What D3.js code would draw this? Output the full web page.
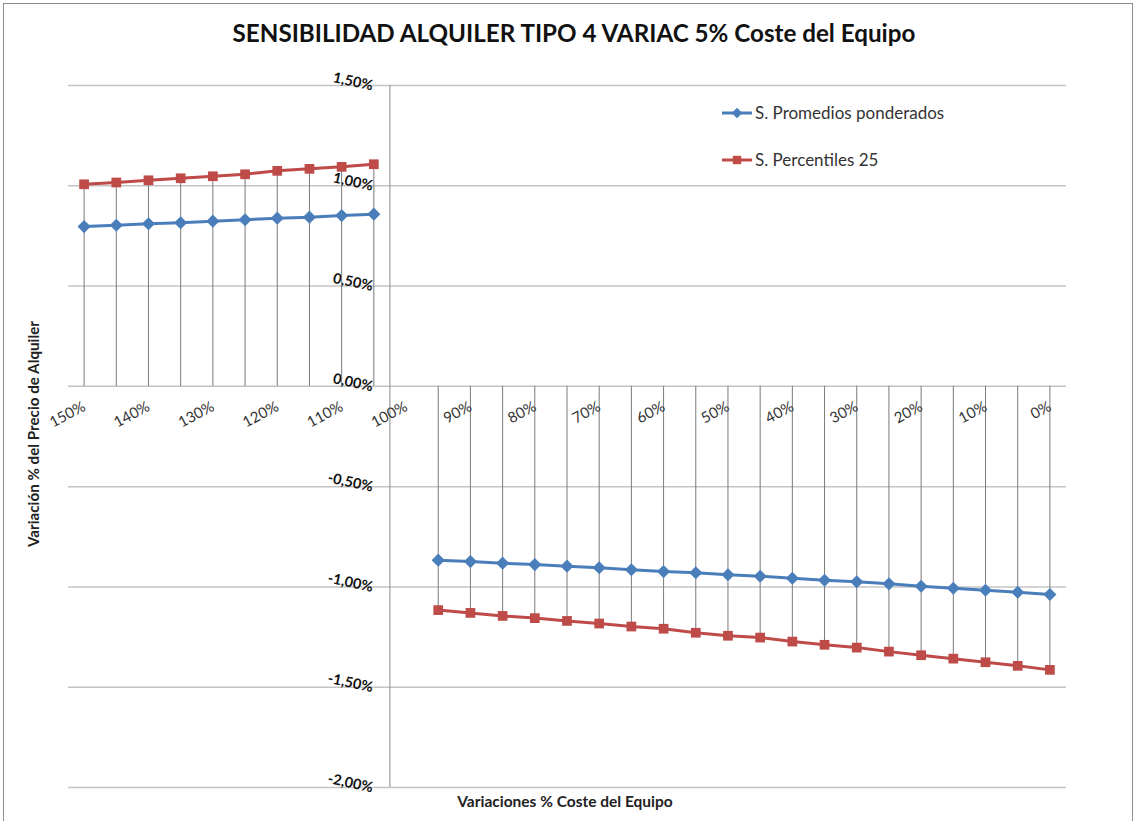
<!DOCTYPE html>
<html>
<head>
<meta charset="utf-8">
<script src="https://cdn.jsdelivr.net/npm/d3@7"></script>
<style>
  html, body { margin: 0; padding: 0; background: #fff; }
  svg { display: block; font-family: Lato, "Open Sans", sans-serif; }
</style>
</head>
<body>
<svg id="chart" width="1136" height="821"></svg>
<script>
// Categories: percentage variation of equipment cost
const categories = ["150%","145%","140%","135%","130%","125%","120%","115%","110%","105%","100%",
  "95%","90%","85%","80%","75%","70%","65%","60%","55%","50%",
  "45%","40%","35%","30%","25%","20%","15%","10%","5%","0%"];

// Labelled categories on the horizontal axis
const xTickLabels = ["150%","140%","130%","120%","110%","100%","90%","80%","70%","60%",
  "50%","40%","30%","20%","10%","0%"];

// Rental price variation (%) — weighted averages
const promedios = [0.794, 0.801, 0.808, 0.813, 0.821, 0.828, 0.836, 0.841, 0.849, 0.856, null,
  -0.869, -0.876, -0.884, -0.891, -0.899, -0.907, -0.917, -0.926, -0.932, -0.942,
  -0.949, -0.959, -0.969, -0.977, -0.987, -0.999, -1.009, -1.019, -1.029, -1.040];

// Rental price variation (%) — 25th percentiles
const percentiles = [1.005, 1.014, 1.025, 1.035, 1.045, 1.055, 1.072, 1.082, 1.092, 1.105, null,
  -1.118, -1.132, -1.147, -1.158, -1.172, -1.185, -1.200, -1.211, -1.231, -1.246,
  -1.255, -1.275, -1.291, -1.305, -1.325, -1.343, -1.360, -1.378, -1.396, -1.416];

// Value axis ticks
const yTicks = [1.5, 1.0, 0.5, 0.0, -0.5, -1.0, -1.5, -2.0];

const seriesNames = ["S. Promedios ponderados", "S. Percentiles 25"];
const colors = ["#4a7ebb", "#be4b48"];

const svg = d3.select("#chart");

// Outer chart frame
svg.append("rect")
  .attr("x", 3.5).attr("y", 3.5)
  .attr("width", 1129).attr("height", 840)
  .attr("fill", "#fff").attr("stroke", "#8c8c8c").attr("stroke-width", 1);

const plot = { left: 68, right: 1066, top: 85, bottom: 787 };

const x = d3.scalePoint().domain(categories).range([plot.left, plot.right]).padding(0.5);
const y = d3.scaleLinear().domain([-2, 1.5]).range([plot.bottom, plot.top]);

const esLocale = d3.formatLocale({ decimal: ",", thousands: ".", grouping: [3], currency: ["", " €"], minus: "-" });
const fmtPct = v => esLocale.format(".2f")(v) + "%";

// Horizontal gridlines
const grid = svg.append("g")
  .attr("transform", `translate(${plot.left},0)`)
  .call(d3.axisLeft(y).tickValues(yTicks).tickSize(-(plot.right - plot.left)).tickFormat(""));
grid.select(".domain").remove();
grid.selectAll("line").attr("stroke", "#c4c4c4").attr("stroke-width", 1.5);

// Vertical axis crossing between 105% and 100%
const axisX = x("105%") + x.step() / 2;
svg.append("line")
  .attr("x1", axisX).attr("x2", axisX)
  .attr("y1", plot.top).attr("y2", plot.bottom)
  .attr("stroke", "#8a8a8a").attr("stroke-width", 1);

// Value axis labels
const yAxis = svg.append("g")
  .attr("transform", `translate(${axisX},0)`)
  .call(d3.axisLeft(y).tickValues(yTicks).tickSize(0).tickFormat(fmtPct));
yAxis.select(".domain").remove();
yAxis.selectAll("text")
  .attr("x", null).attr("dy", null)
  .attr("text-anchor", "end")
  .attr("transform", "translate(-18,5) rotate(12)")
  .attr("font-family", "Lato, sans-serif")
  .attr("font-size", 14.5).attr("font-weight", "bold")
  .attr("fill", "#111");

// Drop lines from each point to the category axis
const y0 = y(0);
categories.forEach((c, i) => {
  const vals = [promedios[i], percentiles[i]].filter(v => v !== null);
  if (!vals.length) return;
  const ext = vals.reduce((a, b) => Math.abs(b) > Math.abs(a) ? b : a);
  svg.append("line")
    .attr("x1", x(c)).attr("x2", x(c))
    .attr("y1", y0).attr("y2", y(ext))
    .attr("stroke", "#7a7a7a").attr("stroke-width", 1);
});

// Category axis labels
const xAxis = svg.append("g")
  .attr("transform", `translate(0,${y0})`)
  .call(d3.axisBottom(x).tickValues(xTickLabels).tickSize(0));
xAxis.select(".domain").remove();
xAxis.selectAll("text")
  .attr("y", null).attr("dy", null)
  .attr("text-anchor", "end")
  .attr("transform", "translate(2,24) rotate(-28)")
  .attr("font-family", "Lato, sans-serif")
  .attr("font-size", 15)
  .attr("fill", "#333");

// Series lines and markers
const line = d3.line()
  .defined(d => d.v !== null)
  .x(d => x(d.c))
  .y(d => y(d.v));

const diamond = d3.symbol().type(d3.symbolDiamond2).size(110);
const square = d3.symbol().type(d3.symbolSquare2).size(120);

[promedios, percentiles].forEach((vals, s) => {
  const pts = categories.map((c, i) => ({ c, v: vals[i] }));
  svg.append("path")
    .datum(pts)
    .attr("d", line)
    .attr("fill", "none")
    .attr("stroke", colors[s])
    .attr("stroke-width", 3);
  svg.append("g").selectAll("path")
    .data(pts.filter(d => d.v !== null))
    .join("path")
    .attr("d", s === 0 ? diamond : square)
    .attr("transform", d => `translate(${x(d.c)},${y(d.v)})`)
    .attr("fill", colors[s]);
});

// Legend
const legend = svg.append("g");
seriesNames.forEach((name, s) => {
  const ly = 113 + s * 47;
  legend.append("line")
    .attr("x1", 722).attr("x2", 752).attr("y1", ly).attr("y2", ly)
    .attr("stroke", colors[s]).attr("stroke-width", 3);
  legend.append("path")
    .attr("d", s === 0 ? d3.symbol().type(d3.symbolDiamond2).size(70) : d3.symbol().type(d3.symbolSquare2).size(90))
    .attr("transform", `translate(737,${ly})`)
    .attr("fill", colors[s]);
  legend.append("text")
    .attr("x", 755).attr("y", ly + 6)
    .attr("font-size", 17)
    .attr("fill", "#333")
    .text(name);
});

// Title
svg.append("text")
  .attr("x", 574).attr("y", 42)
  .attr("text-anchor", "middle")
  .attr("font-size", 24.2).attr("font-weight", "bold")
  .attr("fill", "#111")
  .text("SENSIBILIDAD ALQUILER TIPO 4 VARIAC 5% Coste del Equipo");

// Axis titles
svg.append("text")
  .attr("x", 565).attr("y", 807)
  .attr("text-anchor", "middle")
  .attr("font-size", 15.5).attr("font-weight", "bold")
  .attr("fill", "#222")
  .text("Variaciones % Coste del Equipo");

svg.append("text")
  .attr("transform", "translate(39,434) rotate(-90)")
  .attr("text-anchor", "middle")
  .attr("font-size", 15.2).attr("font-weight", "bold")
  .attr("fill", "#222")
  .text("Variación % del Precio de Alquiler");
</script>
</body>
</html>
